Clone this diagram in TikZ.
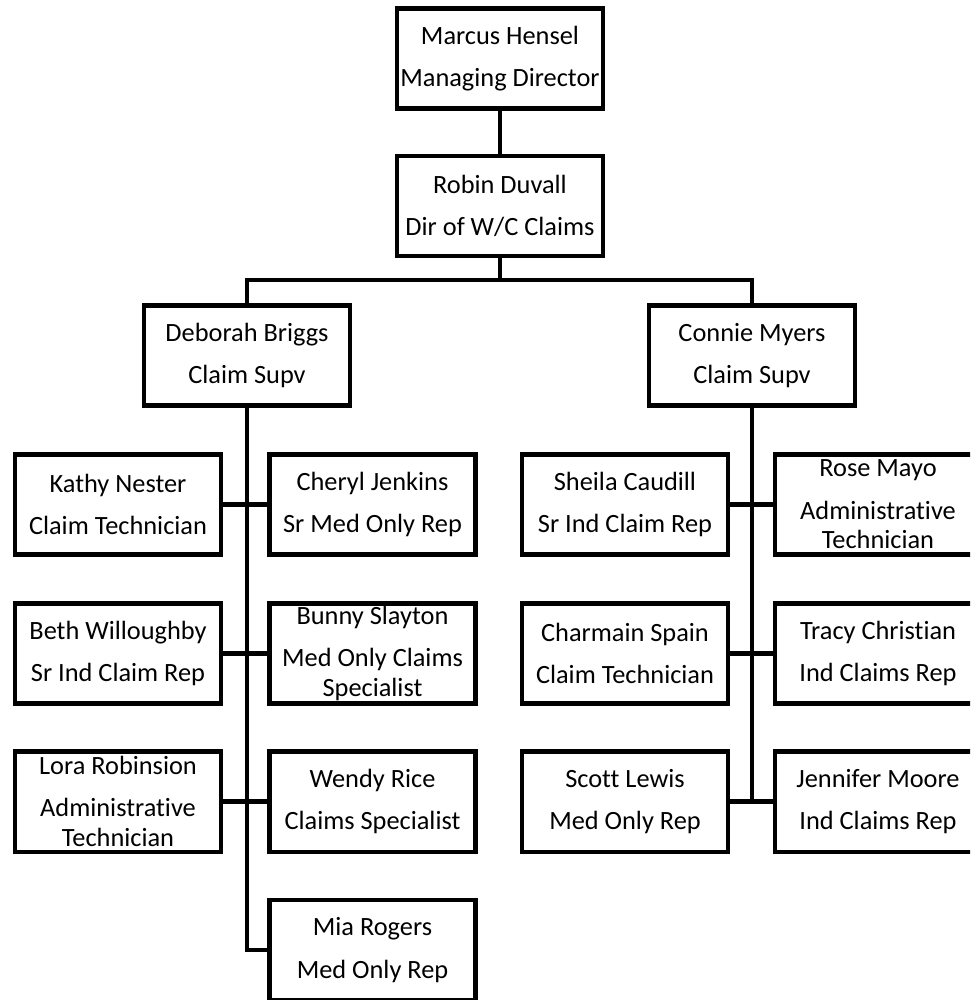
\documentclass[tikz,border=0pt]{standalone}
\usepackage{fontspec}
\setmainfont{Carlito}[Ligatures=NoCommon]
\usepackage{tikz}
\usetikzlibrary{positioning}

\begin{document}
\begin{tikzpicture}[x=0.02cm,y=-0.02cm,
    person/.style={draw,line width=0.09cm,minimum width=4.13cm,minimum height=2.01cm,
      inner sep=0pt,align=center,font=\fontsize{15}{17}\selectfont},
    link/.style={line width=0.09cm}]
  \useasboundingbox (0,0) rectangle (970,1000);
  \clip (0,0) rectangle (970,1000);
  \def\rowa{504.5}
  \def\rowb{653.5}
  \def\rowc{801.5}
  \def\rowd{950}
  \node[person] (marcus) at (500,58.5) {Marcus Hensel\\[7pt]Managing Director};
  \node[person] (robin) at (500,206) {Robin Duvall\\[7pt]Dir of W/C Claims};
  \node[person] (deborah) at (247,355.5) {Deborah Briggs\\[7pt]Claim Supv};
  \node[person] (connie) at (752,355.5) {Connie Myers\\[7pt]Claim Supv};
  \node[person] (kathy) at (118,\rowa) {Kathy Nester\\[7pt]Claim Technician};
  \node[person] (cheryl) at (372.5,\rowa) {Cheryl Jenkins\\[7pt]Sr Med Only Rep};
  \node[person] (beth) at (118,\rowb) {Beth Willoughby\\[7pt]Sr Ind Claim Rep};
  \node[person] (bunny) at (372.5,\rowb) {Bunny Slayton\\[7pt]Med Only Claims\\Specialist};
  \node[person] (lora) at (118,\rowc) {Lora Robinsion\\[7pt]Administrative\\Technician};
  \node[person] (wendy) at (372.5,\rowc) {Wendy Rice\\[7pt]Claims Specialist};
  \node[person] (mia) at (372.5,\rowd) {Mia Rogers\\[7pt]Med Only Rep};
  \node[person] (sheila) at (625,\rowa) {Sheila Caudill\\[7pt]Sr Ind Claim Rep};
  \node[person] (rose) at (878,\rowa) {Rose Mayo\\[7pt]Administrative\\Technician};
  \node[person] (charmain) at (625,\rowb) {Charmain Spain\\[7pt]Claim Technician};
  \node[person] (tracy) at (878,\rowb) {Tracy Christian\\[7pt]Ind Claims Rep};
  \node[person] (scott) at (625,\rowc) {Scott Lewis\\[7pt]Med Only Rep};
  \node[person] (jennifer) at (878,\rowc) {Jennifer Moore\\[7pt]Ind Claims Rep};
  \coordinate (bus) at (500,280);
  \draw[link] (marcus) -- (robin);
  \draw[link] (robin) -- (bus);
  \draw[link] (deborah.north) |- (bus) -| (connie.north);
  \draw[link] (deborah.south) |- (mia.west);
  \draw[link] (kathy) -- (cheryl);
  \draw[link] (beth) -- (bunny);
  \draw[link] (lora) -- (wendy);
  \draw[link] (connie.south) -- (connie.south |- scott.east);
  \draw[link] (sheila) -- (rose);
  \draw[link] (charmain) -- (tracy);
  \draw[link] (scott) -- (jennifer);
\end{tikzpicture}
\end{document}
